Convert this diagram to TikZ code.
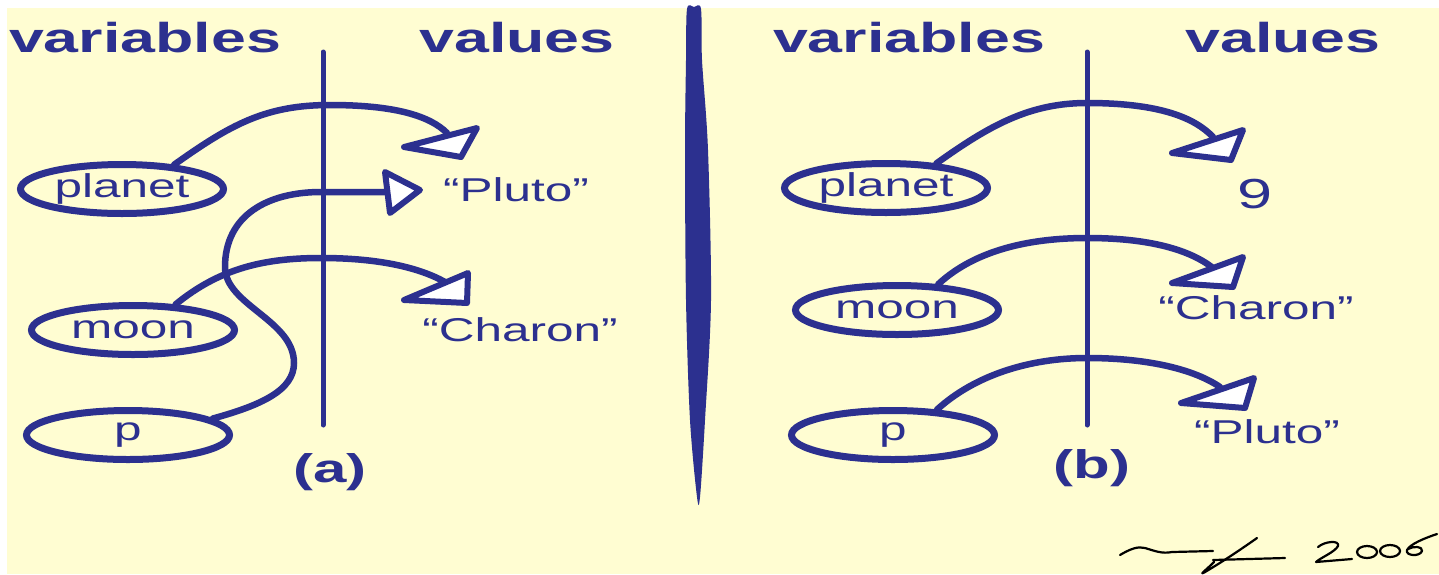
\documentclass[tikz,border=0pt]{standalone}
\usepackage{fontspec}
\setmainfont{Liberation Sans}
\usepackage{graphicx}
\usetikzlibrary{shapes.geometric}
\definecolor{ink}{RGB}{44,48,143}
\definecolor{paper}{RGB}{255,253,210}
\newcommand{\hstretch}[1]{\scalebox{1.5}[1]{#1}}
\tikzset{
  head/.style={font=\fontsize{41.8}{44}\selectfont\bfseries, text=ink, anchor=base, inner sep=0pt},
  lab/.style={font=\fontsize{33}{36}\selectfont, text=ink, inner sep=0pt},
  var/.style={ellipse, draw=ink, line width=7pt, minimum width=203pt, minimum height=49pt, inner sep=0pt, lab},
  link/.style={draw=ink, line width=6.5pt, line cap=round},
  tri/.style={draw=ink, fill=white, line width=6pt, line join=round},
  axis/.style={draw=ink, line width=5pt, line cap=round},
  tag/.style={font=\fontsize{40}{44}\selectfont\bfseries, text=ink, inner sep=0pt},
  sig/.style={draw=black, line width=2.2pt, line cap=round, line join=round}
}
\begin{document}
\begin{tikzpicture}[x=1pt,y=-1pt]
\useasboundingbox (0,0) rectangle (1439,574);
\fill[paper] (7,8) rectangle (1439,574);

% divider
\fill[ink] plot[smooth cycle] coordinates {(687,9) (686,60) (685,150) (686,300) (690,420) (697,497) (700,497) (705,420) (711,300) (708,150) (702,60) (701,9) (694,7)};

% ---------- panel (a) ----------
\node[head] (hv1) at (145,52) {\hstretch{variables}};
\node[head] (hw1) at (517,52) {\hstretch{values}};
\coordinate (la1) at (323,52);
\coordinate (lb1) at (323,425);
\draw[axis] (la1) -- (lb1);

\node[var] (pl1) at (122,189) {\hstretch{planet}};
\node[var] (mo1) at (133,330) {\hstretch{moon}};
\node[var] (pp1) at (128,435) {\hstretch{p}};

\node[lab] (vpl1) at (516,190) {\hstretch{“Pluto”}};
\node[lab] (vch1) at (520,330) {\hstretch{“Charon”}};
\node[tag] (ta) at (330,472) {\hstretch{(a)}};

\coordinate (ha1) at (447,133);
\coordinate (ha2) at (385,192);
\coordinate (ha3) at (445,282);

\draw[link] (pl1.25) .. controls (230,125) and (265,105) .. (330,105) .. controls (395,105) and (430,116) .. (ha1);
\draw[link] (pp1.11) .. controls (262,405) and (294,390) .. (294,363) .. controls (294,320) and (225,305) .. (225,267) .. controls (225,215) and (268,192) .. (321,192) -- (ha2);
\draw[link] (mo1.31) .. controls (220,268) and (265,258) .. (321,258) .. controls (380,258) and (420,268) .. (ha3);

\draw[tri] (404,147) -- (477,128) -- (461,157) -- cycle;
\draw[tri] (385,172) -- (420,190) -- (390,213) -- cycle;
\draw[tri] (404,300) -- (468,273) -- (467,303) -- cycle;

% ---------- panel (b) ----------
\node[head] (hv2) at (909,52) {\hstretch{variables}};
\node[head] (hw2) at (1283,52) {\hstretch{values}};
\coordinate (la2) at (1087,52);
\coordinate (lb2) at (1087,425);
\draw[axis] (la2) -- (lb2);

\node[var] (pl2) at (886,188) {\hstretch{planet}};
\node[var] (mo2) at (897,310) {\hstretch{moon}};
\node[var] (pp2) at (893,435) {\hstretch{p}};

\node[lab, font=\fontsize{42}{44}\selectfont] (nine) at (1255,194) {\hstretch{9}};
\node[lab] (vch2) at (1256,308) {\hstretch{“Charon”}};
\node[lab] (vpl2) at (1267,432) {\hstretch{“Pluto”}};
\node[tag] (tb) at (1092,468) {\hstretch{(b)}};

\coordinate (ha4) at (1213,137);
\coordinate (ha5) at (1213,268);
\coordinate (ha6) at (1220,387);

\draw[link] (pl2.26) .. controls (990,125) and (1030,103) .. (1087,103) .. controls (1160,103) and (1195,118) .. (ha4);
\draw[link] (mo2.32) .. controls (975,250) and (1030,238) .. (1087,238) .. controls (1150,238) and (1190,250) .. (ha5);
\draw[link] (pp2.30) .. controls (975,375) and (1030,358) .. (1087,358) .. controls (1150,358) and (1195,370) .. (ha6);

\draw[tri] (1172,153) -- (1243,130) -- (1231,160) -- cycle;
\draw[tri] (1172,283) -- (1243,257) -- (1233,287) -- cycle;
\draw[tri] (1181,403) -- (1254,378) -- (1245,408) -- cycle;

% ---------- signature ----------
\draw[sig] (1120,555) .. controls (1130,549) and (1138,546) .. (1145,548) .. controls (1155,551) and (1162,554) .. (1172,552) -- (1213,551);
\draw[sig] (1257,538) .. controls (1240,550) and (1222,562) .. (1205,572) .. controls (1198,576) and (1206,570) .. (1214,562);
\draw[sig] (1213,560) -- (1285,558);
\draw[sig] (1318,547) .. controls (1325,541) and (1340,540) .. (1338,546) .. controls (1335,552) and (1320,558) .. (1316,562) -- (1352,559);
\draw[sig] (1367,552) ellipse [x radius=10, y radius=6];
\draw[sig] (1390,551) ellipse [x radius=10, y radius=6];
\draw[sig] (1437,534) .. controls (1425,538) and (1410,544) .. (1407,550) .. controls (1405,556) and (1420,557) .. (1422,551) .. controls (1423,546) and (1413,546) .. (1408,549);
\end{tikzpicture}
\end{document}
